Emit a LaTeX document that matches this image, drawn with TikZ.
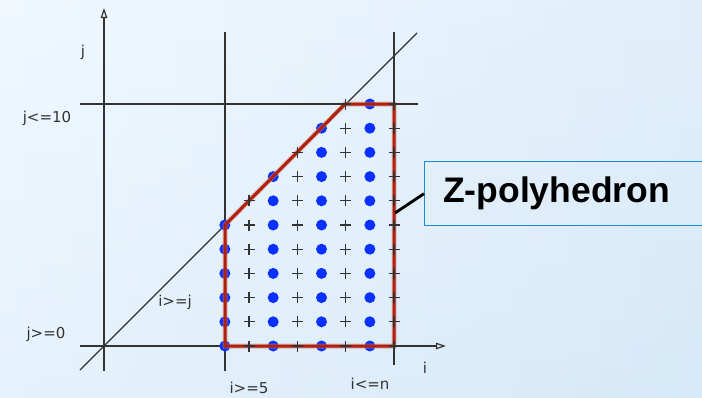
\documentclass[tikz,border=0pt]{standalone}
\usepackage{fontspec}
\setmainfont{DejaVu Sans}
\newfontfamily\boxfont{Liberation Sans}
\usetikzlibrary{arrows.meta}
\definecolor{bgA}{HTML}{EEF7FE}
\definecolor{bgB}{HTML}{D6E9F8}
\definecolor{axisc}{HTML}{333333}
\definecolor{polyred}{HTML}{B0200C}
\definecolor{dotblue}{HTML}{0A30FF}
\definecolor{boxblue}{HTML}{1E8AD2}
\begin{document}
\begin{tikzpicture}[x=1pt,y=-1pt,
  axisline/.style={draw=axisc,line width=1.2pt},
  axisarrow/.style={axisline,-{Triangle[open,length=10pt,width=6.5pt,line width=1.2pt]}},
  lbl/.style={text=axisc,font=\fontsize{15}{16}\selectfont,inner sep=0pt},
  ptdot/.style={circle,fill=dotblue,inner sep=0pt,minimum size=11pt},
  polyline/.style={draw=polyred,line width=3pt,line join=miter},
  polyhalo/.style={draw=polyred!60,line width=5pt,opacity=0.5,line join=miter}
]
\useasboundingbox (0,0) rectangle (702,397);
\shade[shading=axis,shading angle=-60,left color=bgA,right color=bgB] (0,0) rectangle (702,397);
\shade[top color=bgA!60!white,bottom color=bgB,opacity=0.35] (0,0) rectangle (702,397);

% axes and constraint lines
\coordinate (jbot) at (104,371);
\coordinate (jtop) at (104,8);
\coordinate (ileft) at (80,346);
\coordinate (iright) at (446,346);
\draw[axisarrow] (jbot) -- (jtop);
\draw[axisarrow] (ileft) -- (iright);
\coordinate (v5b) at (225,371); \coordinate (v5t) at (225,32);
\coordinate (vnb) at (394,365); \coordinate (vnt) at (394,32);
\coordinate (h10l) at (80,104); \coordinate (h10r) at (418,104);
\coordinate (dgl) at (80,370); \coordinate (dgr) at (417,33);
\draw[axisline] (v5b) -- (v5t);
\draw[axisline] (vnb) -- (vnt);
\draw[axisline] (h10l) -- (h10r);
\draw[axisline] (dgl) -- (dgr);

% lattice dots (odd i)
\foreach \i in {5,7,9,11}{
  \pgfmathtruncatemacro{\jm}{min(\i,10)}
  \foreach \j in {0,...,\jm}{
    \node[ptdot] (d\i-\j) at ({104+24.17*\i},{346-24.2*\j}) {};
  }
}

% polygon
\coordinate (p1) at (225,346);
\coordinate (p2) at (394,346);
\coordinate (p3) at (394,104);
\coordinate (p4) at (345,104);
\coordinate (p5) at (225,225);
\draw[polyhalo] (p1) -- (p2) -- (p3) -- (p4) -- (p5) -- cycle;
\draw[polyline] (p1) -- (p2) -- (p3) -- (p4) -- (p5) -- cycle;

% lattice pluses (even i)
\foreach \i in {6,8,10,12}{
  \pgfmathtruncatemacro{\jm}{min(\i,10)}
  \foreach \j in {0,...,\jm}{
    \coordinate (q\i-\j) at ({104+24.17*\i},{346-24.2*\j});
    \draw[axisc,line width=1.2pt] ([xshift=-5.5pt]q\i-\j) -- ([xshift=5.5pt]q\i-\j);
    \draw[axisc,line width=1.2pt] ([yshift=-5.5pt]q\i-\j) -- ([yshift=5.5pt]q\i-\j);
  }
}

% labels
\node[lbl] (lj) at (83,52) {j};
\node[lbl] (lj10) at (47,118) {j<=10};
\node[lbl] (lj0) at (46,334) {j>=0};
\node[lbl] (lij) at (175,302) {i>=j};
\node[lbl] (li5) at (249,388) {i>=5};
\node[lbl] (lin) at (370,384) {i<=n};
\node[lbl] (li) at (425,368) {i};

% Z-polyhedron box
\node[draw=boxblue,line width=1.3pt,anchor=north west,minimum width=300pt,minimum height=64pt,inner sep=0pt] (zbox) at (424,161) {};
\node[anchor=west,inner sep=0pt,font=\boxfont\bfseries\fontsize{35.5}{38}\selectfont] (ztext) at (443,193) {Z-polyhedron};
\coordinate (zend) at (395,213);
\draw[black,line width=2.8pt] (zbox.west) -- (zend);
\end{tikzpicture}
\end{document}
